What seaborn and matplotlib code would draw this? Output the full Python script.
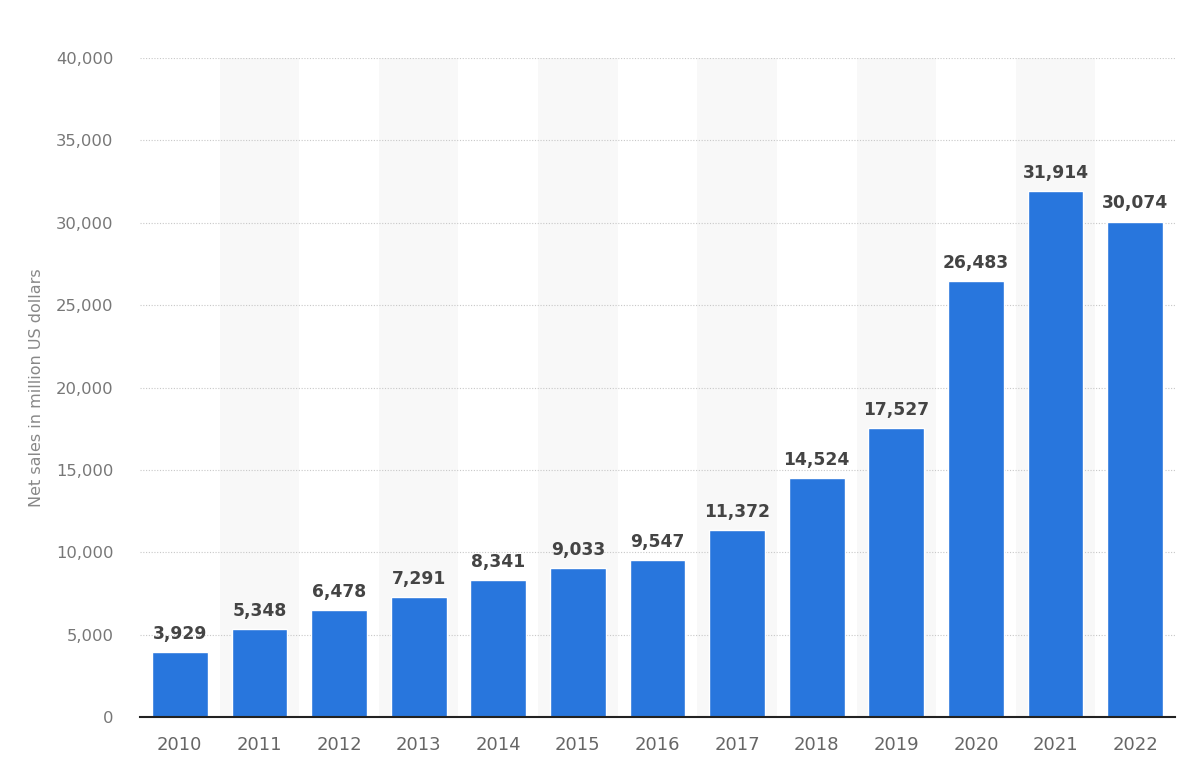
import matplotlib
matplotlib.use("Agg")
import matplotlib.pyplot as plt
import seaborn as sns
import pandas as pd

years = ["2010", "2011", "2012", "2013", "2014", "2015", "2016",
         "2017", "2018", "2019", "2020", "2021", "2022"]
net_sales = [3929, 5348, 6478, 7291, 8341, 9033, 9547,
             11372, 14524, 17527, 26483, 31914, 30074]
y_ticks = [0, 5000, 10000, 15000, 20000, 25000, 30000, 35000, 40000]

df = pd.DataFrame({"year": years, "sales": net_sales})

sns.set_theme(style="white")
plt.rcParams['font.family'] = ['DejaVu Sans']

fig = plt.figure(figsize=(11.98, 7.84), dpi=100)
ax = fig.add_axes([140/1198, 1 - 717/784, (1175-140)/1198, (717-58)/784])

# alternating stripes
for i in range(len(years)):
    if i % 2 == 1:
        ax.axvspan(i - 0.5, i + 0.5, color="#f8f8f8", zorder=0, lw=0)

sns.barplot(data=df, x="year", y="sales", color="#2876dd", saturation=1,
            width=0.70, ax=ax, zorder=3)

ax.set_ylim(0, 40000)
ax.set_xlim(-0.5, len(years) - 0.5)
ax.set_yticks(y_ticks)
ax.set_yticklabels([f"{v:,}" for v in y_ticks])
ax.yaxis.grid(True, linestyle=(0, (1, 1.5)), color="#c8c8c8", linewidth=0.8, zorder=1)
ax.xaxis.grid(False)
ax.set_axisbelow(True)

for s in ["top", "right", "left"]:
    ax.spines[s].set_visible(False)
ax.spines["bottom"].set_color("#222222")
ax.spines["bottom"].set_linewidth(1.5)
ax.spines["bottom"].set_zorder(5)

ax.tick_params(axis="y", length=0, pad=19, labelsize=11.8, labelcolor="#777777")
ax.tick_params(axis="x", length=0, pad=14, labelsize=13, labelcolor="#666666")

ax.set_xlabel("")
ax.set_ylabel("Net sales in million US dollars", fontsize=11.5, color="#888888", labelpad=8.5)

for i, v in enumerate(net_sales):
    ax.text(i, v + 550, f"{v:,}", ha="center", va="bottom", fontsize=12.3,
            fontweight="bold", color="#444444", zorder=6, clip_on=False)

fig.savefig("out.png", dpi=100)
